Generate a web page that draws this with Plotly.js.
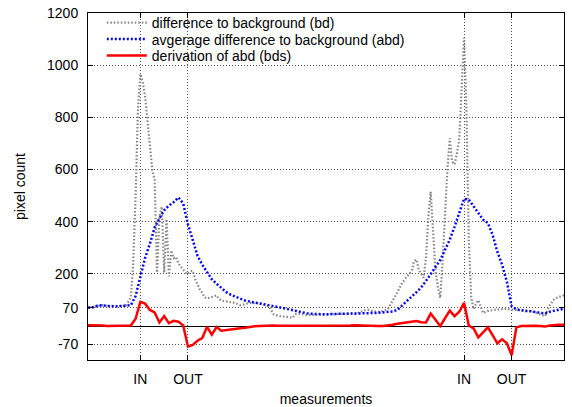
<!DOCTYPE html>
<html>
<head>
<meta charset="utf-8">
<script src="https://cdn.plot.ly/plotly-3.0.1.min.js"></script>
<style>html,body{margin:0;padding:0;background:#fff;}#chart{width:572px;height:407px;}</style>
</head>
<body>
<div id="chart"></div>
<script>
// measurement index for abd / bds series
const measurementCount = 101;
const measurementIdx = Array.from({length: measurementCount}, (_, i) => i);

// event tick positions / labels
const eventTicks = [11, 21, 79, 89];
const eventLabels = ['IN', 'OUT', 'IN', 'OUT'];

// y ticks
const yTicks = [-70, 70, 200, 400, 600, 800, 1000, 1200];
const yTickLabels = ['-70', '70', '200', '400', '600', '800', '1000', '1200'];

// difference to background (bd) - sampled at finer resolution
const bdX = [0,1,2,3,4,5,6,7,8,9,9.5,10,10.5,11,11.5,12,12.5,13,13.5,14,14.5,15,15.5,16,16.5,17,17.5,18,18.5,19,19.5,20,20.5,21,21.5,22,22.5,23,23.5,24,24.5,25,25.5,26,26.5,27,27.5,28,29,30,31,32,33,34,35,36,37,38,38.5,39,40,41,42,43,43.5,44,45,46,47,48,49,50,51,52,53,54,55,56,57,58,59,60,61,62,63,64,65,66,67,68,68.5,69,69.5,70,70.5,71,71.5,72,72.5,73,73.5,74,74.5,75,75.5,76,76.5,77,77.5,78,78.5,79,79.5,80,80.5,81,81.5,82,82.5,83,84,85,86,87,88,89,90,91,92,93,94,95,96,97,98,99,100];
const bdY = [70,73,78,80,77,76,76,77,78,110,240,500,830,966,935,880,790,680,600,560,205,420,458,205,410,190,290,260,265,240,228,220,205,200,210,212,180,160,140,128,110,106,108,110,114,118,105,98,95,93,88,80,85,89,88,87,82,75,60,45,39,37,36,32,45,48,46,42,43,43,43,44,46,46,46,46,46,47,52,60,62,56,55,58,65,95,130,165,190,210,250,255,215,200,185,260,420,515,360,210,150,108,250,450,600,720,630,620,660,720,915,1105,830,330,110,65,85,99,75,50,58,62,64,65,66,63,62,60,58,58,52,45,38,80,105,112,118];

// avgerage difference to background (abd)
const abd = [70,72,78,80,77,76,76,77,78,80,115,190,262,315,378,412,444,462,475,493,470,390,325,270,235,205,180,162,146,131,120,111,105,98,93,90,87,84,80,77,74,69,65,61,57,52,49,47,46,45,45,46,47,48,48,48,48,48,48,49,50,51,52,53,56,62,80,97,113,130,148,173,199,225,253,292,331,380,430,488,485,460,432,408,395,350,285,235,170,76,64,60,58,57,54,52,48,55,60,63,66];

// derivation of abd (bds)
const bds = [3,3,4,2,0,0,0,0,0,2,28,93,86,62,52,14,38,11,20,17,2,-79,-72,-56,-46,-3,-33,-4,-18,-15,-12,-10,-8,-6,-3,-1,0,1,1,2,1,1,0,0,1,1,2,1,1,0,1,2,2,1,1,2,3,2,1,0,1,0,0,2,5,9,12,15,18,19,15,14,48,24,0,30,59,38,55,89,2,-9,-43,-24,-5,-35,-66,-51,-66,-112,-5,0,1,0,1,0,-2,2,4,5,5];

const FONT = 'Liberation Sans, Arial, Helvetica, sans-serif';

const traces = [
  {x: bdX, y: bdY, type: 'scatter', mode: 'lines', name: 'difference to background (bd)',
   legend: 'legend', line: {color: '#858585', width: 2.2, dash: '1.5px,2px'}},
  {x: measurementIdx, y: abd, type: 'scatter', mode: 'lines', name: 'avgerage difference to background (abd)',
   legend: 'legend2', line: {color: '#0000ff', width: 2.5, dash: '2px,2px'}},
  {x: measurementIdx, y: bds, type: 'scatter', mode: 'lines', name: 'derivation of abd (bds)',
   legend: 'legend3', line: {color: '#ff0000', width: 2.5}}
];

function legendAt(rowPx) {
  return {x: 0.029, xanchor: 'left', y: (360 - rowPx) / 348, yanchor: 'middle',
          bgcolor: 'rgba(0,0,0,0)', itemwidth: 40,
          font: {family: FONT, size: 14, color: '#000'}};
}

const layout = {
  width: 572, height: 407,
  margin: {l: 88, r: 8, t: 12, b: 47},
  paper_bgcolor: '#fff', plot_bgcolor: '#fff',
  font: {family: FONT, size: 14, color: '#000'},
  showlegend: true,
  legend: legendAt(23),
  legend2: legendAt(39.5),
  legend3: legendAt(56),
  xaxis: {
    range: [0, 100], tickmode: 'array', tickvals: eventTicks, ticktext: eventLabels,
    ticks: 'inside', ticklen: 5, tickcolor: '#000', tickwidth: 1,
    showline: true, linecolor: '#000', linewidth: 1, mirror: 'ticks',
    showgrid: true, gridcolor: '#555', gridwidth: 1, griddash: '1px,2px',
    zeroline: false, ticklabelstandoff: 6,
    title: {text: 'measurements', font: {family: FONT, size: 14}, standoff: 8}
  },
  yaxis: {
    range: [-130, 1200], tickmode: 'array', tickvals: yTicks, ticktext: yTickLabels,
    ticks: 'inside', ticklen: 5, tickcolor: '#000', tickwidth: 1,
    showline: true, linecolor: '#000', linewidth: 1, mirror: 'ticks',
    showgrid: true, gridcolor: '#555', gridwidth: 1, griddash: '1px,2px',
    zeroline: true, zerolinecolor: '#000', zerolinewidth: 1,
    ticklabelstandoff: 6,
    title: {text: 'pixel count', font: {family: FONT, size: 14}, standoff: 18}
  }
};

Plotly.newPlot('chart', traces, layout, {displayModeBar: false, staticPlot: true});
</script>
</body>
</html>
